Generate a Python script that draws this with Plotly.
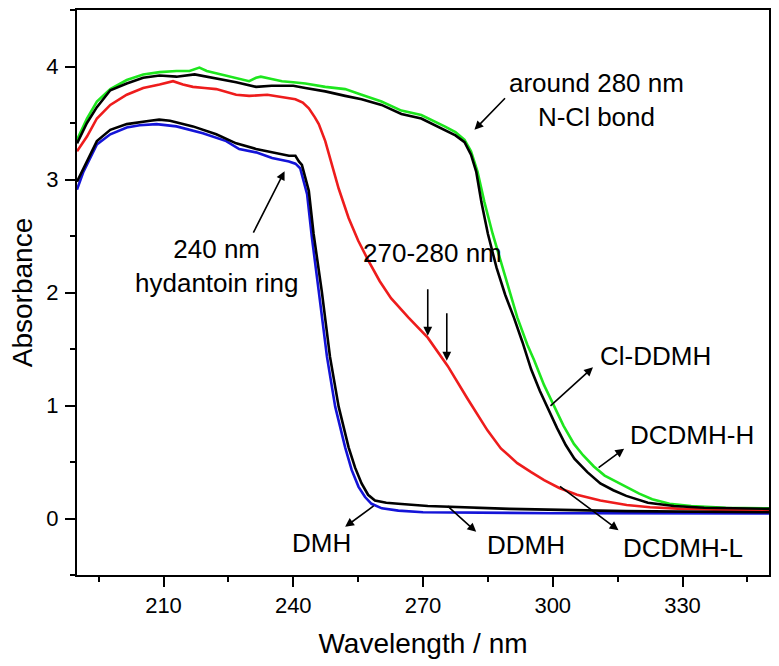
import plotly.graph_objects as go

# ---- data ----
wl_dcdmh_h = [190, 191, 192.3, 194.6, 197.7, 201.5, 205.3, 209.1, 213, 216, 218.3, 220, 222.2, 224.5,
              226.8, 229.8, 231.4, 232.5, 235, 237.4, 240, 242.8, 247.4, 252, 255.8, 260.4, 265, 269.6,
              275, 277.5, 279.6, 281.1, 282.6, 284.2, 286.1, 288, 290, 291.8, 294.1, 295.7, 298, 300.3,
              302.5, 304.9, 307, 309.5, 312, 314, 317, 320, 323, 327, 332, 340, 350]
a_dcdmh_h = [3.35, 3.43, 3.54, 3.69, 3.80, 3.88, 3.93, 3.95, 3.96, 3.96, 3.99, 3.96, 3.94, 3.92,
             3.90, 3.87, 3.90, 3.91, 3.89, 3.87, 3.86, 3.85, 3.82, 3.80, 3.75, 3.69, 3.61, 3.57,
             3.47, 3.42, 3.35, 3.25, 3.07, 2.80, 2.52, 2.28, 2.02, 1.78, 1.54, 1.40, 1.18, 0.99,
             0.82, 0.66, 0.56, 0.46, 0.38, 0.34, 0.28, 0.22, 0.17, 0.13, 0.11, 0.095, 0.09]

wl_cl_ddmh = [190, 191, 192.3, 194.6, 197.7, 201.5, 205.3, 209.1, 213, 217.2, 220, 222.2, 226.8, 231.4,
              235, 237.4, 240, 242.8, 247.4, 252, 255.8, 260.4, 265, 269.6, 275, 277.5, 279.6, 281.1,
              282.3, 283.5, 285, 287, 289, 291, 293, 295, 297, 299, 301, 303, 305, 308, 311, 314, 317,
              322, 328, 335, 350]
a_cl_ddmh = [3.32, 3.40, 3.50, 3.64, 3.79, 3.85, 3.90, 3.92, 3.91, 3.93, 3.91, 3.89, 3.86, 3.82,
             3.83, 3.83, 3.83, 3.81, 3.78, 3.74, 3.71, 3.66, 3.58, 3.54, 3.44, 3.39, 3.33, 3.22,
             3.07, 2.80, 2.52, 2.22, 1.98, 1.78, 1.56, 1.32, 1.13, 0.96, 0.80, 0.65, 0.53, 0.41, 0.31,
             0.25, 0.20, 0.14, 0.11, 0.095, 0.085]

wl_dcdmh_l = [190, 192.3, 194.6, 197.7, 201.5, 205.3, 209.1, 212.2, 214.5, 216.8, 219.5, 222.2, 226.8,
              229.8, 234, 237, 240.5, 242.2, 243.6, 245, 245.9, 247.4, 248.9, 250.5, 252.8, 255, 257.4,
              260, 262.6, 266.6, 271.1, 275.7, 280.3, 284.9, 288, 291.8, 295, 298, 301.5, 305.6, 311,
              317.1, 322.5, 330, 340, 350]
a_dcdmh_l = [3.25, 3.38, 3.54, 3.66, 3.75, 3.81, 3.84, 3.87, 3.84, 3.82, 3.81, 3.80, 3.75,
             3.74, 3.75, 3.73, 3.71, 3.68, 3.63, 3.55, 3.49, 3.34, 3.13, 2.92, 2.66, 2.46, 2.28,
             2.10, 1.95, 1.78, 1.60, 1.35, 1.06, 0.78, 0.62, 0.49, 0.41, 0.34, 0.27, 0.21, 0.16,
             0.12, 0.10, 0.085, 0.075, 0.07]

wl_ddmh = [190, 191.5, 194.6, 197.7, 201.5, 206.9, 209, 211.5, 216.8, 222.2, 226.8, 231.4, 235.1, 239,
           240.5, 241.3, 242, 243.6, 244.7, 246.6, 248.5, 250.5, 252.8, 254.3, 255.8, 257.3, 258.9,
           261.5, 264.3, 271.1, 290, 317, 350]
a_ddmh = [2.98, 3.10, 3.34, 3.44, 3.49, 3.52, 3.53, 3.52, 3.47, 3.40, 3.32, 3.27, 3.24, 3.21,
          3.21, 3.16, 3.13, 2.90, 2.52, 2.01, 1.43, 0.99, 0.63, 0.45, 0.31, 0.21, 0.16,
          0.14, 0.13, 0.11, 0.085, 0.065, 0.055]

wl_dmh = [190, 191.5, 194.6, 197.7, 201.5, 204.5, 208.4, 213, 219.1, 224.5, 227.5, 231.4, 235.1, 239,
          240.5, 241.6, 243.2, 244.3, 245.9, 247.8, 249.7, 252, 253.5, 255.1, 256.6, 258.1, 260.5,
          264.3, 270, 300, 350]
a_dmh = [2.91, 3.07, 3.31, 3.40, 3.46, 3.48, 3.49, 3.47, 3.41, 3.34, 3.27, 3.24, 3.19, 3.16,
         3.14, 3.10, 2.87, 2.49, 2.01, 1.43, 0.99, 0.63, 0.43, 0.28, 0.19, 0.13, 0.09,
         0.07, 0.055, 0.047, 0.045]

x_ticks = [210, 240, 270, 300, 330]
y_ticks = [0, 1, 2, 3, 4]

FONT = "Liberation Sans, Arial, sans-serif"

fig = go.Figure()
series = [
    (wl_dcdmh_h, a_dcdmh_h, "#1ee61e", "DCDMH-H"),
    (wl_dcdmh_l, a_dcdmh_l, "#ee1c1c", "DCDMH-L"),
    (wl_dmh, a_dmh, "#1414d8", "DMH"),
    (wl_ddmh, a_ddmh, "#000000", "DDMH"),
    (wl_cl_ddmh, a_cl_ddmh, "#000000", "Cl-DDMH"),
]
for xs, ys, col, name in series:
    fig.add_trace(go.Scatter(x=xs, y=ys, mode="lines", name=name,
                             line=dict(color=col, width=2.6), showlegend=False))

# text labels
labels = [
    (310.2, 3.70, "around 280 nm<br>N-Cl bond"),
    (222.2, 2.235, "240 nm<br>hydantoin ring"),
    (272.1, 2.353, "270-280 nm"),
    (323.8, 1.44, "Cl-DDMH"),
    (332.3, 0.735, "DCDMH-H"),
    (330.2, -0.262, "DCDMH-L"),
    (293.7, -0.235, "DDMH"),
    (246.6, -0.218, "DMH"),
]
for x, y, t in labels:
    fig.add_annotation(x=x, y=y, text=t, showarrow=False, xref="x", yref="y",
                       font=dict(family=FONT, size=26, color="black"),
                       xanchor="center", yanchor="middle", align="center")

# arrows (tip in data coords, tail offset in pixels)
arrows = [
    (281.9, 3.44, 32, -33),
    (238.0, 3.074, -32, 63),
    (271.1, 1.618, 0, -48),
    (275.5, 1.397, 0, -49),
    (309.3, 1.338, -44, 40),
    (316.5, 0.618, -27, 20),
    (315.2, -0.103, -60, -45),
    (282.3, -0.118, -30, -27),
    (252.0, -0.074, 30, -22),
]
for x, y, ax, ay in arrows:
    fig.add_annotation(x=x, y=y, ax=ax, ay=ay, axref="pixel", ayref="pixel",
                       text="", showarrow=True, arrowhead=2, arrowsize=1.1,
                       arrowwidth=1.6, arrowcolor="black")

fig.update_layout(
    width=779, height=666,
    margin=dict(l=77, r=8, t=8, b=91),
    paper_bgcolor="white", plot_bgcolor="white",
    font=dict(family=FONT, color="black"),
)
fig.update_xaxes(
    range=[190, 350], tickvals=x_ticks, ticktext=[str(v) for v in x_ticks],
    showgrid=False, zeroline=False, showline=True, linecolor="black", linewidth=2,
    mirror=True, ticks="outside", ticklen=10, tickwidth=2, tickcolor="black",
    minor=dict(dtick=15, tick0=195, ticks="outside", ticklen=5, tickwidth=2, tickcolor="black"),
    tickfont=dict(family=FONT, size=22), ticklabelstandoff=0,
    title=dict(text="Wavelength / nm", font=dict(family=FONT, size=28), standoff=16),
)
fig.update_yaxes(
    range=[-0.5, 4.5], tickvals=y_ticks, ticktext=[str(v) for v in y_ticks],
    showgrid=False, zeroline=False, showline=True, linecolor="black", linewidth=2,
    mirror=True, ticks="outside", ticklen=10, tickwidth=2, tickcolor="black",
    minor=dict(dtick=0.5, tick0=0, ticks="outside", ticklen=5, tickwidth=2, tickcolor="black"),
    tickfont=dict(family=FONT, size=22), ticklabelstandoff=2,
    title=dict(text="Absorbance", font=dict(family=FONT, size=28), standoff=6),
)

fig.write_html("out.html", config={"displayModeBar": False},
               post_script="document.body.style.margin='0';document.body.style.padding='0';")
